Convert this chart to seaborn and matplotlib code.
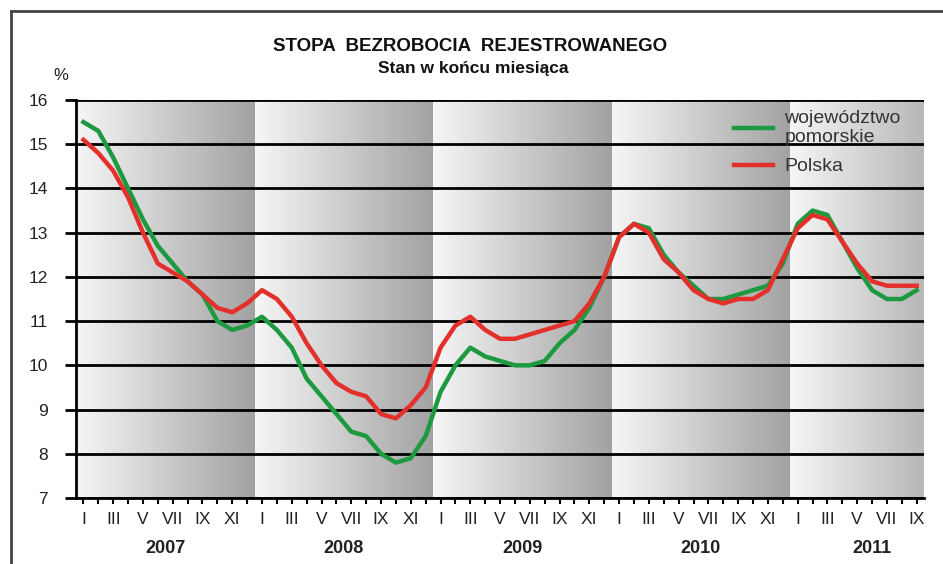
import matplotlib
matplotlib.use("Agg")
import matplotlib.pyplot as plt
import seaborn as sns
import numpy as np
import pandas as pd
from matplotlib.colors import LinearSegmentedColormap
from matplotlib.lines import Line2D

# monthly values, I 2007 - IX 2011
pomorskie = [15.5, 15.3, 14.7, 14.0, 13.3, 12.7, 12.3, 11.9, 11.6, 11.0, 10.8, 10.9,
             11.1, 10.8, 10.4, 9.7, 9.3, 8.9, 8.5, 8.4, 8.0, 7.8, 7.9, 8.4,
             9.4, 10.0, 10.4, 10.2, 10.1, 10.0, 10.0, 10.1, 10.5, 10.8, 11.3, 12.0,
             12.9, 13.2, 13.1, 12.5, 12.1, 11.8, 11.5, 11.5, 11.6, 11.7, 11.8, 12.3,
             13.2, 13.5, 13.4, 12.8, 12.2, 11.7, 11.5, 11.5, 11.7]
polska = [15.1, 14.8, 14.4, 13.8, 13.0, 12.3, 12.1, 11.9, 11.6, 11.3, 11.2, 11.4,
          11.7, 11.5, 11.1, 10.5, 10.0, 9.6, 9.4, 9.3, 8.9, 8.8, 9.1, 9.5,
          10.4, 10.9, 11.1, 10.8, 10.6, 10.6, 10.7, 10.8, 10.9, 11.0, 11.4, 12.0,
          12.9, 13.2, 13.0, 12.4, 12.1, 11.7, 11.5, 11.4, 11.5, 11.5, 11.7, 12.4,
          13.1, 13.4, 13.3, 12.8, 12.3, 11.9, 11.8, 11.8, 11.8]
months = ["I", "II", "III", "IV", "V", "VI", "VII", "VIII", "IX", "X", "XI", "XII"]
years = ["2007", "2008", "2009", "2010", "2011"]

n = len(polska)
idx = np.arange(n)
df = pd.DataFrame({"m": idx, "pomorskie": pomorskie, "polska": polska})

plt.rcParams['font.family'] = ['Liberation Sans', 'DejaVu Sans']
fig = plt.figure(figsize=(9.43, 5.64), dpi=100)
ax = fig.add_axes([0.0806, 0.117, 0.8994, 0.7057])

# gradient background per year
cmap = LinearSegmentedColormap.from_list("band", ["#f6f6f6", "#a2a2a2"])
grad = np.linspace(0, 1, 256).reshape(1, -1)
for k in range(len(years)):
    x0 = 12 * k - 0.5
    x1 = min(12 * k + 11.5, n - 0.5)
    frac = (x1 - x0) / 12
    ax.imshow(grad[:, :int(256 * frac)], extent=[x0, x1, 7, 16], aspect='auto',
              cmap=cmap, vmin=0, vmax=1, zorder=0)

for v in range(7, 17):
    ax.axhline(v, color="black", lw=2, zorder=1)

sns.lineplot(data=df, x="m", y="pomorskie", color="#1d9a40", lw=3.2, ax=ax, zorder=3)
sns.lineplot(data=df, x="m", y="polska", color="#e3302b", lw=3.2, ax=ax, zorder=4)

ax.set_xlim(-0.5, n - 0.5)
ax.set_ylim(7, 16)
ax.set_xlabel("")
ax.set_ylabel("")
for s in ["top", "right"]:
    ax.spines[s].set_visible(False)
ax.spines["left"].set_linewidth(2)
ax.spines["bottom"].set_linewidth(2)

ax.set_yticks(range(7, 17))
ax.tick_params(axis="y", length=8, width=2, labelsize=12.5, colors="black",
               labelcolor="#222222", pad=12)
ax.set_xticks(idx)
ax.set_xticklabels([months[i % 12] if i % 2 == 0 else "" for i in idx])
ax.tick_params(axis="x", length=4, width=1.5, labelsize=12.5, labelcolor="#222222", pad=6)

for k, y in enumerate(years):
    cx = 12 * k + 5.5 if k < 4 else 53
    ax.text(cx, -0.128, y, transform=ax.get_xaxis_transform(), ha="center", va="center",
            fontsize=13, fontweight="bold", color="#222222")

ax.text(-0.018, 1.062, "%", transform=ax.transAxes, ha="center", va="center",
        fontsize=12, color="#222222")

fig.text(0.499, 0.918, "STOPA  BEZROBOCIA  REJESTROWANEGO", ha="center", va="center",
         fontsize=13.5, fontweight="bold", color="#111111")
fig.text(0.502, 0.879, "Stan w końcu miesiąca", ha="center", va="center",
         fontsize=12.5, fontweight="bold", color="#111111")

handles = [Line2D([], [], color="#1d9a40", lw=3.2), Line2D([], [], color="#e3302b", lw=3.2)]
leg = ax.legend(handles, ["województwo\npomorskie", "Polska"], loc="upper left",
                bbox_to_anchor=(0.755, 1.02), frameon=False, fontsize=14,
                handlelength=2.0, labelspacing=0.6, handletextpad=0.6)
for t in leg.get_texts():
    t.set_color("#333333")

# outer frame (left and top edges)
fig.add_artist(Line2D([0.0117, 0.0117], [0.0, 0.981], color="#444444", lw=2,
                      transform=fig.transFigure))
fig.add_artist(Line2D([0.0117, 1.0], [0.981, 0.981], color="#444444", lw=2,
                      transform=fig.transFigure))

fig.savefig("out.png", dpi=100)
